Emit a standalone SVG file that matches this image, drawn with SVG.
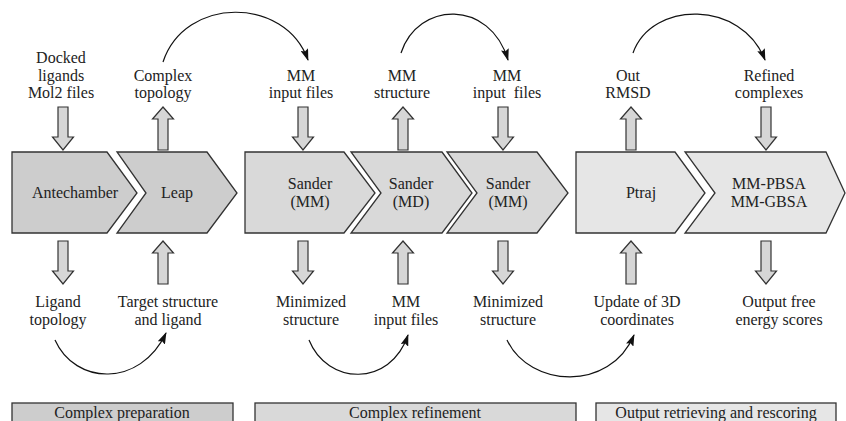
<svg xmlns="http://www.w3.org/2000/svg" xmlns:xlink="http://www.w3.org/1999/xlink" width="846" height="421" viewBox="0 0 846 421">
<style>
  text { font-family: "Liberation Serif", "Times New Roman", serif; font-size: 16px; fill: #222; text-anchor: middle; white-space: pre; }
  .chev { stroke: #333; stroke-width: 1.3; stroke-linejoin: miter; }
  .dark { fill: #cdcdcd; }
  .mid { fill: #d9d9d9; }
  .light { fill: #e6e6e6; }
  .blk { fill: #d6d6d6; stroke: #333; stroke-width: 1.2; }
  .arc { fill: none; stroke: #111; stroke-width: 1.2; marker-end: url(#ah); }
  .box { stroke: #333; stroke-width: 1.3; }
</style>
<defs>
  <marker id="ah" viewBox="0 0 12 8" refX="11" refY="4" markerWidth="12" markerHeight="8" orient="auto" markerUnits="userSpaceOnUse">
    <path d="M0,0 L12,4 L0,8 L2,4 z" fill="#111"/>
  </marker>
  <path id="downT" class="blk" d="M-5,0 H5 V30 H10.5 L0,43 L-10.5,30 H-5 Z"/>
  <path id="upT" class="blk" d="M0,0 L10.5,12 H5 V43 H-5 V12 H-10.5 Z"/>
</defs>
<rect width="846" height="421" fill="#fff"/>

<g id="connectors">
  <path class="arc" d="M163,62 C185,-4 285,-4 308,60"/>
  <path class="arc" d="M401,53 C418,1 490,-1 508,60"/>
  <path class="arc" d="M633,53 C652,0 742,0 765,60"/>
  <path class="arc" d="M55,340 C75,385 140,388 166,333"/>
  <path class="arc" d="M309,340 C327,385 390,388 408,335"/>
  <path class="arc" d="M507,340 C530,388 610,392 634,335"/>
</g>

<g id="block-arrows">
  <use xlink:href="#downT" x="63" y="107"/>
  <use xlink:href="#upT" x="163" y="107"/>
  <use xlink:href="#downT" x="303" y="107"/>
  <use xlink:href="#upT" x="403" y="107"/>
  <use xlink:href="#downT" x="503" y="107"/>
  <use xlink:href="#upT" x="631" y="107"/>
  <use xlink:href="#downT" x="766" y="107"/>
  <use xlink:href="#downT" x="63" y="241"/>
  <use xlink:href="#upT" x="163" y="241"/>
  <use xlink:href="#downT" x="303" y="241"/>
  <use xlink:href="#upT" x="403" y="241"/>
  <use xlink:href="#downT" x="503" y="241"/>
  <use xlink:href="#upT" x="631" y="241"/>
  <use xlink:href="#downT" x="766" y="241"/>
</g>

<g id="antechamber">
  <path class="chev dark" d="M12,152 H107 L137,193 L107,233 H12 Z"/>
  <text x="75" y="198">Antechamber</text>
</g>
<g id="leap">
  <path class="chev dark" d="M117,152 H207 L237,193 L207,233 H117 L146,193 Z"/>
  <text x="177" y="198">Leap</text>
</g>
<g id="sander-mm-1">
  <path class="chev mid" d="M245,152 H344 L375,193 L344,233 H245 Z"/>
  <text x="310" y="189">Sander</text>
  <text x="310" y="207">(MM)</text>
</g>
<g id="sander-md">
  <path class="chev mid" d="M351,152 H442 L472,193 L442,233 H351 L381,193 Z"/>
  <text x="411" y="189">Sander</text>
  <text x="411" y="207">(MD)</text>
</g>
<g id="sander-mm-2">
  <path class="chev mid" d="M447,152 H537 L568,193 L537,233 H447 L477,193 Z"/>
  <text x="508" y="189">Sander</text>
  <text x="508" y="207">(MM)</text>
</g>
<g id="ptraj">
  <path class="chev light" d="M576,152 H675 L705,193 L675,233 H576 Z"/>
  <text x="641" y="198">Ptraj</text>
</g>
<g id="mmpbsa">
  <path class="chev light" d="M685,152 H826 L845,193 L826,233 H685 L715,193 Z"/>
  <text x="769" y="189">MM-PBSA</text>
  <text x="769" y="207">MM-GBSA</text>
</g>

<g id="label-docked">
  <text x="61" y="63">Docked</text>
  <text x="61" y="81">ligands</text>
  <text x="61" y="98">Mol2 files</text>
</g>
<g id="label-complex-topology">
  <text x="163" y="81">Complex</text>
  <text x="163" y="98">topology</text>
</g>
<g id="label-mm-input-1">
  <text x="301" y="81">MM</text>
  <text x="301" y="98">input files</text>
</g>
<g id="label-mm-structure">
  <text x="402" y="81">MM</text>
  <text x="402" y="98">structure</text>
</g>
<g id="label-mm-input-2">
  <text x="507" y="81">MM</text>
  <text x="507" y="98">input  files</text>
</g>
<g id="label-out-rmsd">
  <text x="628" y="81">Out</text>
  <text x="628" y="98">RMSD</text>
</g>
<g id="label-refined">
  <text x="769" y="81">Refined</text>
  <text x="769" y="98">complexes</text>
</g>

<g id="label-ligand-topology">
  <text x="58" y="307">Ligand</text>
  <text x="58" y="325">topology</text>
</g>
<g id="label-target">
  <text x="168" y="307">Target structure</text>
  <text x="168" y="325">and ligand</text>
</g>
<g id="label-minimized-1">
  <text x="311" y="307">Minimized</text>
  <text x="311" y="325">structure</text>
</g>
<g id="label-mm-input-3">
  <text x="406" y="307">MM</text>
  <text x="406" y="325">input files</text>
</g>
<g id="label-minimized-2">
  <text x="508" y="307">Minimized</text>
  <text x="508" y="325">structure</text>
</g>
<g id="label-update">
  <text x="637" y="307">Update of 3D</text>
  <text x="637" y="325">coordinates</text>
</g>
<g id="label-output-free">
  <text x="779" y="307">Output free</text>
  <text x="779" y="325">energy scores</text>
</g>

<g id="stage-preparation">
  <rect class="box dark" x="12" y="403" width="221" height="30"/>
  <text x="122" y="418">Complex preparation</text>
</g>
<g id="stage-refinement">
  <rect class="box mid" x="255" y="403" width="321" height="30"/>
  <text x="415" y="418">Complex refinement</text>
</g>
<g id="stage-output">
  <rect class="box light" x="596" y="403" width="240" height="30"/>
  <text x="716" y="418">Output retrieving and rescoring</text>
</g>
</svg>
